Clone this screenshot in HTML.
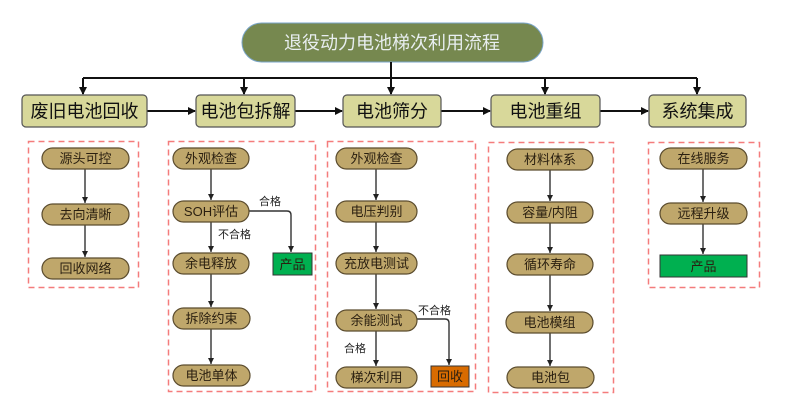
<!DOCTYPE html>
<html><head><meta charset="utf-8"><style>
html,body{margin:0;padding:0;background:#fff;}
svg{display:block;}
text{font-family:"Liberation Sans","Noto Sans CJK SC",sans-serif;}
</style></head><body>
<svg width="800" height="414" viewBox="0 0 800 414" xmlns="http://www.w3.org/2000/svg">
<defs>
<marker id="a" markerWidth="8" markerHeight="8" refX="7" refY="4" orient="auto" markerUnits="userSpaceOnUse">
<path d="M0,0 L8,4 L0,8 z" fill="#111"/></marker>
<marker id="s" markerWidth="6" markerHeight="6" refX="6" refY="3" orient="auto" markerUnits="userSpaceOnUse">
<path d="M0,0 L6,3 L0,6 z" fill="#222"/></marker>
</defs>
<!-- title -->
<rect x="242" y="23" width="301" height="39" rx="19.5" fill="#76884f" stroke="#7aa5c8" stroke-width="1"/>
<text x="392" y="49" font-size="18" fill="#e8eef0" text-anchor="middle">退役动力电池梯次利用流程</text>
<!-- top connector -->
<g stroke="#111" stroke-width="2" fill="none">
<line x1="391" y1="62" x2="391" y2="94" marker-end="url(#a)"/>
<line x1="83" y1="78" x2="697" y2="78"/>
<line x1="83" y1="78" x2="83" y2="94" marker-end="url(#a)"/>
<line x1="244" y1="78" x2="244" y2="94" marker-end="url(#a)"/>
<line x1="545" y1="78" x2="545" y2="94" marker-end="url(#a)"/>
<line x1="697" y1="78" x2="697" y2="94" marker-end="url(#a)"/>
<line x1="147" y1="111" x2="195" y2="111" marker-end="url(#a)"/>
<line x1="295" y1="111" x2="342" y2="111" marker-end="url(#a)"/>
<line x1="441" y1="111" x2="490" y2="111" marker-end="url(#a)"/>
<line x1="600" y1="111" x2="648" y2="111" marker-end="url(#a)"/>
</g>
<!-- top boxes -->
<g fill="#d8d89a" stroke="#555" stroke-width="1.2">
<rect x="22" y="95" width="125" height="32" rx="4"/>
<rect x="196" y="95" width="99" height="32" rx="4"/>
<rect x="343" y="95" width="98" height="32" rx="4"/>
<rect x="491" y="95" width="109" height="32" rx="4"/>
<rect x="649" y="95" width="97" height="32" rx="4"/>
</g>
<g font-size="18" fill="#111" text-anchor="middle">
<text x="84.5" y="117.5">废旧电池回收</text>
<text x="245.5" y="117.5">电池包拆解</text>
<text x="392" y="117.5">电池筛分</text>
<text x="545.5" y="117.5">电池重组</text>
<text x="697.5" y="117.5">系统集成</text>
</g>
<!-- dashed boxes -->
<g fill="none" stroke="#f47c7c" stroke-width="1.5" stroke-dasharray="6,4">
<rect x="28.5" y="141.5" width="110" height="146"/>
<rect x="168.5" y="141.5" width="147" height="250"/>
<rect x="327.5" y="141.5" width="148" height="250"/>
<rect x="488.5" y="142.5" width="125" height="250"/>
<rect x="648.5" y="142.5" width="111" height="145"/>
</g>
<!-- inner connectors -->
<g stroke="#333" stroke-width="1.4" fill="none">
<line x1="85" y1="168" x2="85" y2="203" marker-end="url(#s)"/>
<line x1="85" y1="224" x2="85" y2="257" marker-end="url(#s)"/>
<line x1="211" y1="168" x2="211" y2="200" marker-end="url(#s)"/>
<line x1="211" y1="221" x2="211" y2="252" marker-end="url(#s)"/>
<line x1="211" y1="273" x2="211" y2="307" marker-end="url(#s)"/>
<line x1="211" y1="328" x2="211" y2="364" marker-end="url(#s)"/>
<path d="M249,211 L287,211 Q291,211 291,215 L291,252" marker-end="url(#s)"/>
<line x1="376" y1="168" x2="376" y2="200" marker-end="url(#s)"/>
<line x1="376" y1="221" x2="376" y2="252" marker-end="url(#s)"/>
<line x1="376" y1="273" x2="376" y2="309" marker-end="url(#s)"/>
<line x1="376" y1="330" x2="376" y2="366" marker-end="url(#s)"/>
<path d="M417,319 L445,319 Q449,319 449,323 L449,365" marker-end="url(#s)"/>
<line x1="550" y1="169" x2="550" y2="201" marker-end="url(#s)"/>
<line x1="550" y1="222" x2="550" y2="253" marker-end="url(#s)"/>
<line x1="550" y1="274" x2="550" y2="311" marker-end="url(#s)"/>
<line x1="550" y1="332" x2="550" y2="366" marker-end="url(#s)"/>
<line x1="703" y1="168" x2="703" y2="202" marker-end="url(#s)"/>
<line x1="703" y1="223" x2="703" y2="254" marker-end="url(#s)"/>
</g>
<!-- pills -->
<g fill="#bfa76b" stroke="#5b4c2e" stroke-width="1.2">
<rect x="42" y="148" width="87" height="21" rx="10.5"/>
<rect x="42" y="204" width="87" height="21" rx="10.5"/>
<rect x="42" y="258" width="87" height="21" rx="10.5"/>
<rect x="173" y="148" width="76" height="21" rx="10.5"/>
<rect x="173" y="201" width="76" height="21" rx="10.5"/>
<rect x="173" y="253" width="76" height="21" rx="10.5"/>
<rect x="173" y="308" width="77" height="21" rx="10.5"/>
<rect x="173" y="365" width="77" height="21" rx="10.5"/>
<rect x="336" y="148" width="81" height="21" rx="10.5"/>
<rect x="336" y="201" width="81" height="21" rx="10.5"/>
<rect x="336" y="253" width="81" height="21" rx="10.5"/>
<rect x="336" y="310" width="81" height="21" rx="10.5"/>
<rect x="336" y="367" width="81" height="21" rx="10.5"/>
<rect x="507" y="149" width="86" height="21" rx="10.5"/>
<rect x="507" y="202" width="86" height="21" rx="10.5"/>
<rect x="507" y="254" width="86" height="21" rx="10.5"/>
<rect x="506" y="312" width="87" height="21" rx="10.5"/>
<rect x="507" y="367" width="87" height="21" rx="10.5"/>
<rect x="660" y="148" width="87" height="21" rx="10.5"/>
<rect x="660" y="203" width="87" height="21" rx="10.5"/>
</g>
<g fill="#00b050" stroke="#333" stroke-width="1">
<rect x="273" y="253" width="39" height="22"/>
<rect x="660" y="255" width="87" height="22"/>
</g>
<rect x="431" y="366" width="38" height="21" fill="#d86b00" stroke="#333" stroke-width="1"/>
<g font-size="13" fill="#2a1f10" text-anchor="middle">
<text x="85.5" y="163">源头可控</text>
<text x="85.5" y="219">去向清晰</text>
<text x="85.5" y="273">回收网络</text>
<text x="211" y="163">外观检查</text>
<text x="211" y="216">SOH评估</text>
<text x="211" y="268">余电释放</text>
<text x="211.5" y="323">拆除约束</text>
<text x="211.5" y="380">电池单体</text>
<text x="376.5" y="163">外观检查</text>
<text x="376.5" y="216">电压判别</text>
<text x="376.5" y="268">充放电测试</text>
<text x="376.5" y="325">余能测试</text>
<text x="376.5" y="382">梯次利用</text>
<text x="550" y="164">材料体系</text>
<text x="550" y="217">容量/内阻</text>
<text x="550" y="269">循环寿命</text>
<text x="549.5" y="327">电池模组</text>
<text x="550.5" y="382">电池包</text>
<text x="703.5" y="163">在线服务</text>
<text x="703.5" y="218">远程升级</text>
<text x="292.5" y="269">产品</text>
<text x="703.5" y="271">产品</text>
<text x="450" y="381">回收</text>
</g>
<g font-size="11" fill="#222">
<text x="259" y="205">合格</text>
<text x="218" y="238">不合格</text>
<text x="418" y="314">不合格</text>
<text x="344" y="352">合格</text>
</g>
</svg>
</body></html>
